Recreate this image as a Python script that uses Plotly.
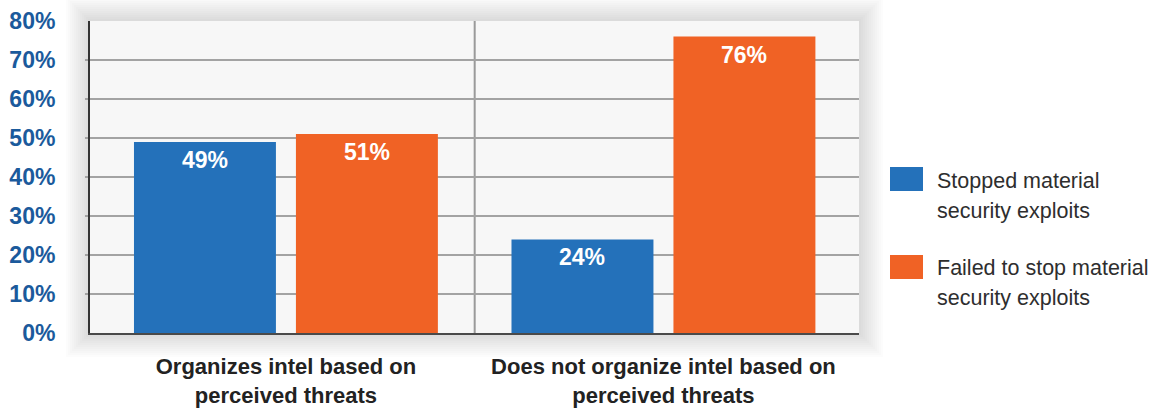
import plotly.graph_objects as go

categories = ["Organizes intel based on<br>perceived threats",
              "Does not organize intel based on<br>perceived threats"]
series_names = ["Stopped material<br>security exploits",
                "Failed to stop material<br>security exploits"]
stopped = [49, 24]
failed = [51, 76]
y_ticks = [0, 10, 20, 30, 40, 50, 60, 70, 80]
y_tick_labels = [f"{v}%" for v in y_ticks]

BLUE = "#2471BA"
ORANGE = "#F06225"
W, H = 1152, 412
L, R, T, B = 90, 293, 21, 79
PW, PH = W - L - R, H - T - B


def px(x):
    return (x - L) / PW


def py(y):
    return (H - B - y) / PH


fig = go.Figure()
for name, vals, col in [(series_names[0], stopped, BLUE), (series_names[1], failed, ORANGE)]:
    fig.add_trace(go.Bar(x=categories, y=vals, name=name, marker=dict(color=col, line=dict(width=0)),
                         showlegend=False, hoverinfo="skip"))

annotations = []
for vals, shift in [(stopped, -81), (failed, 81)]:
    for c, v in zip(categories, vals):
        annotations.append(dict(x=c, y=v, xref="x", yref="y", text=f"{v}%", showarrow=False,
                                xshift=shift, yshift=-18, yanchor="middle",
                                font=dict(family="Liberation Sans, Arial", size=23, color="white", weight="bold")))

# custom legend: (name, colour, box top, box bottom, first-line centre)
legend_items = [(series_names[0], BLUE, 167, 191, 181), (series_names[1], ORANGE, 255, 279, 268)]
shapes = []
# soft shadow around plot area
N = 12
for k in range(N, 0, -1):
    d = 2 * k
    shapes.append(dict(type="rect", xref="paper", yref="paper", x0=-d / PW, x1=1 + d / PW,
                       y0=-d / PH, y1=1 + d / PH, fillcolor="rgba(0,0,0,0.013)",
                       line=dict(width=0), layer="below"))
shapes.append(dict(type="rect", xref="paper", yref="paper", x0=0, x1=1, y0=0, y1=1,
                   fillcolor="#f7f7f7", line=dict(width=0), layer="below"))
# divider between groups
shapes.append(dict(type="line", xref="x", yref="paper", x0=0.5, x1=0.5, y0=0, y1=1,
                   line=dict(color="#9a9a9a", width=2), layer="below"))

for name, col, y0, y1, yc in legend_items:
    shapes.append(dict(type="rect", xref="paper", yref="paper", x0=px(890), x1=px(923),
                       y0=py(y1), y1=py(y0), fillcolor=col, line=dict(width=0)))
    for i, line in enumerate(name.split("<br>")):
        annotations.append(dict(x=px(935), y=py(yc + 30 * i), xref="paper", yref="paper", text=line,
                                showarrow=False, xanchor="left", yanchor="middle", align="left",
                                font=dict(family="Liberation Sans, Arial", size=21.5, color="#2e2e2e")))

fig.update_layout(
    width=W, height=H,
    margin=dict(l=L, r=R, t=T, b=B, pad=0),
    paper_bgcolor="white",
    plot_bgcolor="rgba(0,0,0,0)",
    barmode="group",
    bargap=0.142,
    bargroupgap=0.1235,
    shapes=shapes,
    annotations=annotations,
    showlegend=False,
)
fig.update_xaxes(
    type="category", range=[-0.519, 1.518], showgrid=False, zeroline=False, automargin=False,
    showline=True, linecolor="#4a4a4a", linewidth=2, ticks="",
    ticklabelstandoff=13,
    tickfont=dict(family="Liberation Sans, Arial", size=22, color="#222222", weight="bold"),
)
fig.update_yaxes(
    range=[0, 80], tickvals=y_ticks, ticktext=y_tick_labels, showgrid=False, zeroline=False,
    automargin=False,
    showline=True, linecolor="#333333", linewidth=2, ticks="",
    ticklabelstandoff=28,
    tickfont=dict(family="Liberation Sans, Arial", size=23, color="#1B5A9C", weight="bold"),
    minor=dict(tickvals=y_ticks[1:-1], showgrid=True, gridcolor="#a3a3a3", gridwidth=2,
               ticks="outside", ticklen=3, tickcolor="#a3a3a3", tickwidth=2),
)

fig.write_html("out.html", config={"displayModeBar": False},
               post_script="document.body.style.margin='0';")
